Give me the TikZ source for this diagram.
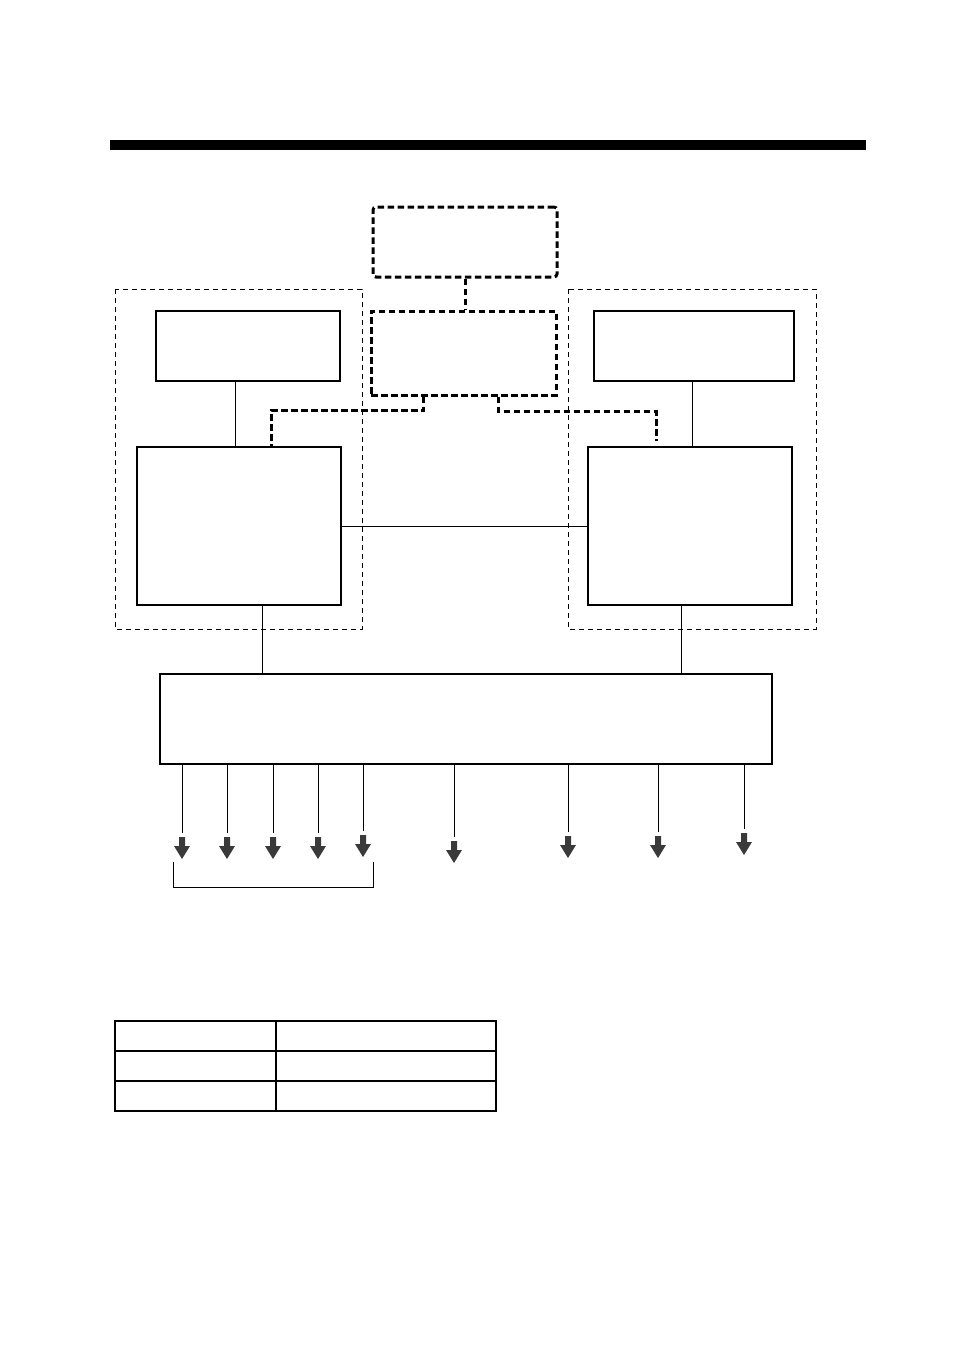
\documentclass[tikz,border=0pt]{standalone}
\usepackage{xcolor}
\usepackage{tikz}
\usetikzlibrary{positioning}
\definecolor{cink}{HTML}{000000}
\definecolor{cdark}{HTML}{3A3A3A}
\tikzset{
  unit/.style={draw=cink,line width=1.1pt,inner sep=0pt},
  grp/.style={draw=cink,line width=0.8pt,dash pattern=on 5pt off 4pt},
  opt/.style={draw=cink,line width=3pt,dash pattern=on 6.5pt off 3.5pt},
  wire/.style={draw=cink,line width=1pt},
}
\def\outs{1/182/833,2/227/833,3/273/833,4/318/833,5/363/831,6/454/837,7/568/832,8/658/832,9/744/829}

\begin{document}
\begin{tikzpicture}[x=1pt,y=-1pt]
\useasboundingbox (0,0) rectangle (954,1351);

% ============ header bar ============
\fill[cink] (110,140) rectangle (866,150);

% ============ groups ============
\draw[grp] (115,289) rectangle (362,629);
\draw[grp] (568,289) rectangle (816,629);

% ============ units ============
\node[opt,rounded corners=3pt,minimum width=184pt,minimum height=70pt] (top) at (465,242) {};
\node[opt,minimum width=185pt,minimum height=84pt] (mid) at (463.5,353) {};
\node[unit,minimum width=184pt,minimum height=70pt] (ltop) at (248,346) {};
\node[unit,minimum width=200pt,minimum height=70pt] (rtop) at (694,346) {};
\node[unit,minimum width=204pt,minimum height=158pt] (lbig) at (239,526) {};
\node[unit,minimum width=204pt,minimum height=158pt] (rbig) at (690,526) {};
\node[unit,line width=1.4pt,minimum width=612pt,minimum height=90pt] (bus) at (466,719) {};

% ============ links ============
\draw[opt] (top.south) -- (mid.north -| top.south);
\draw[opt] ([xshift=-40pt]mid.south) -- ++(0,14) -| ([xshift=32pt]lbig.north);
\draw[opt] ([xshift=35pt]mid.south) -- ++(0,15) -| ([xshift=-34pt,yshift=5pt]rbig.north);
\draw[wire] ([xshift=-13pt]ltop.south) -- ([xshift=-13pt]ltop.south |- lbig.north);
\draw[wire] ([xshift=-2pt]rtop.south) -- ([xshift=-2pt]rtop.south |- rbig.north);
\draw[wire] (lbig) -- (rbig);
\draw[wire] ([xshift=23pt]lbig.south) -- ([xshift=23pt]lbig.south |- bus.north);
\draw[wire] ([xshift=-9pt]rbig.south) -- ([xshift=-9pt]rbig.south |- bus.north);

% ============ outputs ============
\foreach \i/\x/\y in \outs {
  \coordinate (o\i) at (\x,\y);
  \draw[wire] (o\i |- bus.south) -- (o\i);
  \fill[cdark] (o\i) ++(-3,4) -- ++(6,0) -- ++(0,9) -- ++(5,0)
    -- ++(-8,13) -- ++(-8,-13) -- ++(5,0) -- cycle;
}
\draw[wire] (173,862) -- (173,887) -- (373,887) -- (373,862);

% ============ table ============
\draw[line width=1.3pt] (115,1021) rectangle (496,1111);
\draw[line width=1.3pt] (115,1051) -- (496,1051) (115,1081) -- (496,1081);
\draw[line width=1.3pt] (276,1021) -- (276,1111);

\end{tikzpicture}
\end{document}
